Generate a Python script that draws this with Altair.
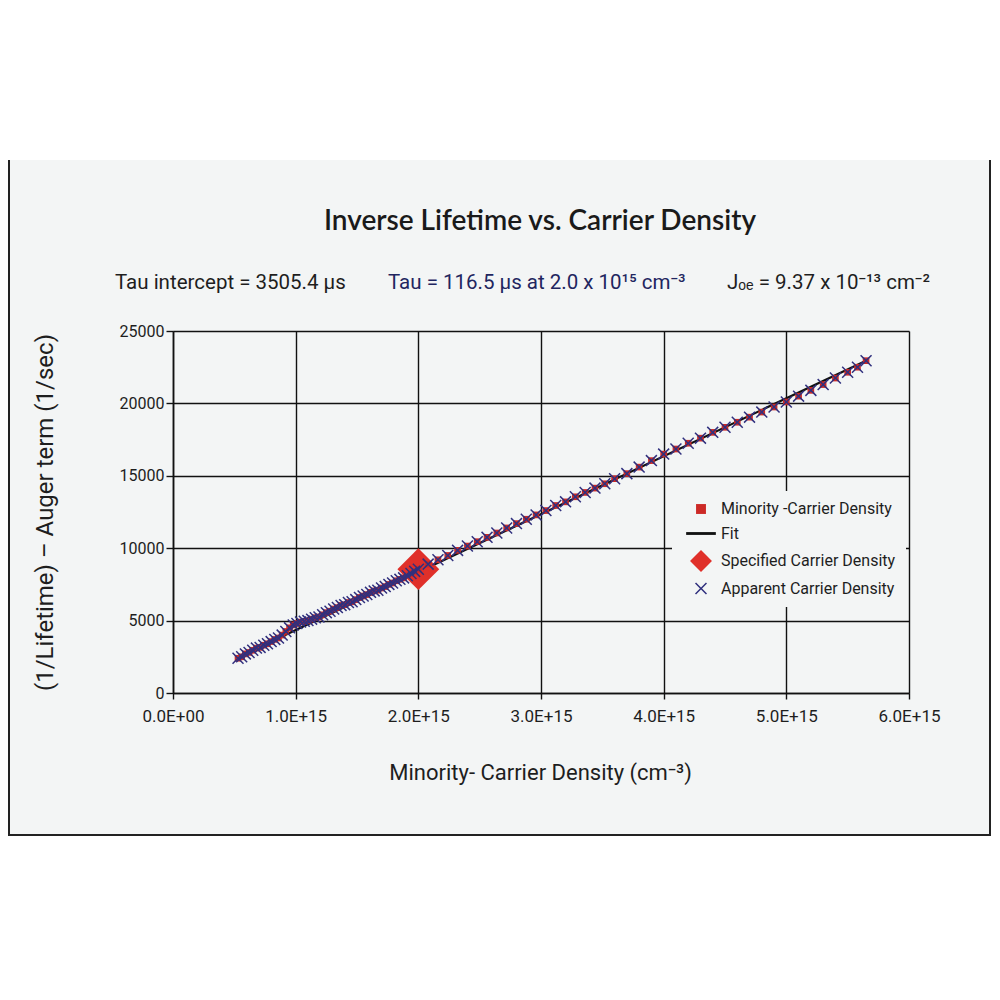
import altair as alt
import pandas as pd

# ---------------- data ----------------
# x in units of 1e15 cm^-3, y in 1/sec
APP_X = [0.53, 0.56, 0.59, 0.62, 0.65, 0.68, 0.71, 0.74, 0.77, 0.80,
         0.83, 0.86, 0.89, 0.92, 0.95, 0.98, 1.01, 1.04, 1.07, 1.10,
         1.13, 1.16, 1.19, 1.22, 1.25, 1.28, 1.31, 1.34, 1.37, 1.40,
         1.43, 1.46, 1.49, 1.52, 1.55, 1.58, 1.61, 1.64, 1.67, 1.70,
         1.73, 1.76, 1.79, 1.82, 1.85, 1.88, 1.91, 1.94, 1.97, 2.00,
         2.08, 2.16, 2.24, 2.32, 2.40, 2.48, 2.56, 2.64, 2.72, 2.80,
         2.88, 2.96, 3.04, 3.12, 3.20, 3.28, 3.36, 3.44, 3.52, 3.60,
         3.70, 3.80, 3.90, 4.00, 4.10, 4.20, 4.30, 4.40, 4.50, 4.60,
         4.70, 4.80, 4.90, 5.00, 5.10, 5.20, 5.30, 5.40, 5.50, 5.58, 5.65]
APP_Y = [2400, 2500, 2700, 2800, 2950, 3100, 3150, 3300, 3400, 3550,
         3700, 3800, 4000, 4250, 4500, 4700, 4800, 4900, 4950, 5000,
         5100, 5200, 5250, 5400, 5550, 5650, 5800, 5900, 6050, 6100,
         6250, 6300, 6450, 6600, 6700, 6800, 6950, 7050, 7100, 7250,
         7350, 7500, 7600, 7750, 7850, 7950, 8100, 8250, 8400, 8550,
         8900, 9200, 9500, 9850, 10150, 10450, 10750, 11050, 11400, 11700,
         12000, 12300, 12600, 12950, 13200, 13550, 13850, 14150, 14450, 14800,
         15150, 15600, 16050, 16500, 16850, 17250, 17600, 18000, 18350, 18700,
         19050, 19400, 19750, 20100, 20500, 20900, 21300, 21750, 22150, 22500, 22950]
MIN_X = APP_X
MIN_Y = APP_Y
SPEC_X = [2.0]
SPEC_Y = [8550]
FIT_X = [0.55, 5.65]
FIT_Y = [2550, 22950]

X_TICKS = [0, 1, 2, 3, 4, 5, 6]
Y_TICKS = [0, 5000, 10000, 15000, 20000, 25000]

SERIES = ["Minority -Carrier Density", "Fit", "Specified Carrier Density", "Apparent Carrier Density"]
COLORS = ["#cc2a26", "#111111", "#e0302a", "#30307e"]
SHAPES = [
    "M-0.7,-0.7L0.7,-0.7L0.7,0.7L-0.7,0.7Z",
    "M-2.1,-0.2L2.1,-0.2L2.1,0.2L-2.1,0.2Z",
    "M0,-1.55L1.55,0L0,1.55L-1.55,0Z",
    "M-0.85,-0.7L-0.7,-0.85L0,-0.15L0.7,-0.85L0.85,-0.7L0.15,0L0.85,0.7L0.7,0.85L0,0.15L-0.7,0.85L-0.85,0.7L-0.15,0Z",
]
SIZE_MIN, SIZE_SPEC, SIZE_APP = 90, 729, 200

TITLE = "Inverse Lifetime vs. Carrier Density"
SUB1 = "Tau intercept = 3505.4 µs"
SUB2 = "Tau = 116.5 µs at 2.0 x 10¹⁵ cm⁻³"
SUB3 = "Jₒₑ = 9.37 x 10⁻¹³ cm⁻²"
X_TITLE = "Minority- Carrier Density (cm⁻³)"
Y_TITLE = "(1/Lifetime) – Auger term (1/sec)"

NARROW = "Roboto, Liberation Sans, sans-serif"
BG = "#f3f5f5"

# ---------------- tables ----------------
rows = []
for x, y in zip(SPEC_X, SPEC_Y):
    rows.append({"x": x, "y": y, "series": SERIES[2], "z": 0, "sz": SIZE_SPEC})
for x, y in zip(MIN_X, MIN_Y):
    rows.append({"x": x, "y": y, "series": SERIES[0], "z": 1, "sz": SIZE_MIN})
for x, y in zip(APP_X, APP_Y):
    rows.append({"x": x, "y": y, "series": SERIES[3], "z": 2, "sz": SIZE_APP})
pts = pd.DataFrame(rows)
fit = pd.DataFrame({"x": FIT_X, "y": FIT_Y})

W, H = 736, 362

xscale = alt.Scale(domain=[0, 6], nice=False)
yscale = alt.Scale(domain=[0, 25000], nice=False)

xaxis = alt.Axis(values=X_TICKS, title=X_TITLE,
                 labelExpr="datum.value == 0 ? '0.0E+00' : format(datum.value, '.1f') + 'E+15'",
                 titleX=367, titleY=79, titleAlign="center", titleBaseline="middle",
                 labelPadding=9, tickSize=6, labelFlush=False, labelFontSize=17,
                 titleFontSize=22)
yaxis = alt.Axis(values=Y_TICKS, title=Y_TITLE, format="d",
                 titleX=-128, titleY=181, titleAlign="center", titleBaseline="middle",
                 labelPadding=2, tickSize=7, labelFontSize=16, titleFontSize=24)

one = alt.Data(values=[{}])

white_top = alt.Chart(one).mark_rect(fill="#ffffff").encode(
    x=alt.value(-170), x2=alt.value(830), y=alt.value(-330), y2=alt.value(-171))
white_bot = alt.Chart(one).mark_rect(fill="#ffffff").encode(
    x=alt.value(-170), x2=alt.value(830), y=alt.value(505), y2=alt.value(520))
white_right = alt.Chart(one).mark_rect(fill="#ffffff").encode(
    x=alt.value(818), x2=alt.value(830), y=alt.value(-330), y2=alt.value(520))
border_r = alt.Chart(one).mark_rule(color="#222", strokeWidth=2).encode(
    x=alt.value(817), y=alt.value(-171), y2=alt.value(504))
border_b = alt.Chart(one).mark_rule(color="#222", strokeWidth=2).encode(
    x=alt.value(-165), x2=alt.value(818), y=alt.value(504))
border_l = alt.Chart(one).mark_rule(color="#222", strokeWidth=2).encode(
    x=alt.value(-164), y=alt.value(-171), y2=alt.value(504))

title = alt.Chart(one).mark_text(text=TITLE, font="Lato", fontSize=28, fontWeight=600,
                                 color="#1a1a1a", align="center", baseline="middle").encode(
    x=alt.value(367), y=alt.value(-109))
sub1 = alt.Chart(one).mark_text(text=SUB1, font=NARROW, fontSize=20.5, color="#1e1e1e",
                                align="left", baseline="middle").encode(
    x=alt.value(-58), y=alt.value(-48))
sub2 = alt.Chart(one).mark_text(text=SUB2, font=NARROW, fontSize=20.5, color="#1f2660",
                                align="left", baseline="middle").encode(
    x=alt.value(215), y=alt.value(-48))
sub3 = alt.Chart(one).mark_text(text=SUB3, font=NARROW, fontSize=20.5, color="#1e1e1e",
                                align="left", baseline="middle").encode(
    x=alt.value(554), y=alt.value(-48))

fit_line = alt.Chart(fit).mark_line(color="#111111", strokeWidth=2.2).encode(
    x=alt.X("x:Q", scale=xscale, axis=xaxis),
    y=alt.Y("y:Q", scale=yscale, axis=yaxis),
)

legend = alt.Legend(title=None, orient="none", legendX=499, legendY=160,
                    fillColor=BG, padding=10, symbolSize=200, symbolOffset=11,
                    labelOffset=12, rowPadding=8.5, labelFont=NARROW, labelFontSize=16,
                    labelColor="#1e1e1e", symbolStrokeWidth=0, labelLimit=400)

points = alt.Chart(pts).mark_point(filled=True, opacity=1, strokeWidth=0).encode(
    x=alt.X("x:Q", scale=xscale, axis=xaxis),
    y=alt.Y("y:Q", scale=yscale, axis=yaxis),
    color=alt.Color("series:N", scale=alt.Scale(domain=SERIES, range=COLORS), legend=legend),
    shape=alt.Shape("series:N", scale=alt.Scale(domain=SERIES, range=SHAPES), legend=legend),
    size=alt.Size("sz:Q", scale=None, legend=None),
    order=alt.Order("z:Q"),
)

chart = alt.layer(white_top, white_bot, white_right, border_r, border_b, border_l,
                  title, sub1, sub2, sub3, fit_line, points).properties(
    width=W, height=H,
    autosize=alt.AutoSizeParams(type="none"),
    padding={"left": 165, "top": 323, "right": 83, "bottom": 150},
    background=BG,
).configure_view(stroke=None, fill=None).configure_axis(
    domainColor="#111", domainWidth=1.6, tickColor="#111", tickWidth=1.4,
    gridColor="#111", gridWidth=1.4, grid=True,
    labelFont=NARROW, labelColor="#1e1e1e",
    titleFont=NARROW, titleColor="#1e1e1e", titleFontWeight="normal",
)

chart.save("out.html", embed_options={"renderer": "svg", "actions": False})
